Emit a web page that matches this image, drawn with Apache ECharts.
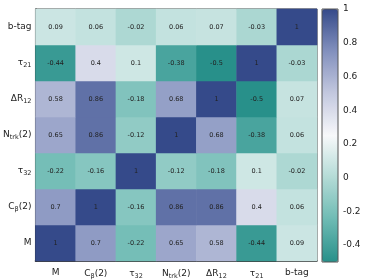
<!DOCTYPE html>
<html>
<head>
<meta charset="utf-8">
<script src="https://cdn.jsdelivr.net/npm/echarts@6/dist/echarts.min.js"></script>
<style>html,body{margin:0;padding:0;background:#fff}#c{width:374px;height:280px}</style>
</head>
<body>
<div id="c"></div>
<script>
// Variables (bottom to top on y, left to right on x)
var variables = ['M', 'Cβ(2)', 'τ32', 'Ntrk(2)', 'ΔR12', 'τ21', 'b-tag'];
var tickLabels = ['M', '{n|C}{s|β}{n|(2)}', '{n|τ}{s|32}', '{n|N}{s|trk}{n|(2)}', '{n|ΔR}{s|12}', '{n|τ}{s|21}', 'b-tag'];
// Correlation rows
var rowM     = [1, 0.7, -0.22, 0.65, 0.58, -0.44, 0.09];
var rowCb    = [0.7, 1, -0.16, 0.86, 0.86, 0.4, 0.06];
var rowTau32 = [-0.22, -0.16, 1, -0.12, -0.18, 0.1, -0.02];
var rowNtrk  = [0.65, 0.86, -0.12, 1, 0.68, -0.38, 0.06];
var rowDR    = [0.58, 0.86, -0.18, 0.68, 1, -0.5, 0.07];
var rowTau21 = [-0.44, 0.4, 0.1, -0.38, -0.5, 1, -0.03];
var rowBtag  = [0.09, 0.06, -0.02, 0.06, 0.07, -0.03, 1];
var colorMin = -0.5, colorMax = 1;

var rows = [rowM, rowCb, rowTau32, rowNtrk, rowDR, rowTau21, rowBtag];
var data = [];
rows.forEach(function (r, yi) { r.forEach(function (v, xi) { data.push([xi, yi, v]); }); });

var FONT = 'DejaVu Sans';
var rich = {
  n: { fontSize: 9, fontFamily: FONT, color: '#222' },
  s: { fontSize: 6.5, fontFamily: FONT, color: '#222', padding: [5, 0, 0, 0] }
};
function fmt(v, i) { return tickLabels[i]; }

var chart = echarts.init(document.getElementById('c'));
chart.setOption({
  animation: false,
  grid: [
    { left: 35, top: 9, width: 282, height: 253, show: true, borderColor: '#333', borderWidth: 1, backgroundColor: 'transparent' },
    { left: 322, top: 9, width: 16, height: 253, show: true, borderColor: '#555', borderWidth: 1, backgroundColor: 'transparent', z: 10 }
  ],
  xAxis: [
    { type: 'category', data: variables, gridIndex: 0,
      axisLine: { show: true, lineStyle: { color: '#222', width: 1.5 } },
      axisTick: { show: false }, splitLine: { show: false },
      axisLabel: { interval: 0, hideOverlap: false, formatter: fmt, rich: rich, fontSize: 9, fontFamily: FONT, color: '#222', margin: 7 } },
    { type: 'value', gridIndex: 1, show: false, min: 0, max: 1 }
  ],
  yAxis: [
    { type: 'category', data: variables, gridIndex: 0,
      axisLine: { show: true, lineStyle: { color: '#222', width: 1.5 } },
      axisTick: { show: false }, splitLine: { show: false },
      axisLabel: { interval: 0, hideOverlap: false, formatter: fmt, rich: rich, fontSize: 9, fontFamily: FONT, color: '#222', margin: 4 } },
    { type: 'value', gridIndex: 1, position: 'right', min: colorMin, max: colorMax, interval: 0.1,
      axisLine: { show: false }, axisTick: { show: false }, splitLine: { show: false },
      axisLabel: { fontSize: 9, fontFamily: FONT, color: '#222', margin: 5,
        formatter: function (v) {
          var k = Math.round(v * 10);
          if (k % 2 !== 0) return '';
          return String(Math.round(v * 10) / 10);
        } } }
  ],
  visualMap: {
    type: 'continuous', min: colorMin, max: colorMax, calculable: false,
    orient: 'vertical', left: 322, top: 9, itemWidth: 16, itemHeight: 253,
    padding: 0, text: ['', ''], showLabel: false, seriesIndex: 0,
    inRange: { color: ['#28908a', '#6dbab3', '#b3dbd6', '#f7f8fa', '#c3c8df', '#8290bd', '#354a8a'] }
  },
  series: [{
    type: 'heatmap', xAxisIndex: 0, yAxisIndex: 0, data: data,
    label: { show: true, fontSize: 6.5, fontFamily: FONT, color: '#222',
      formatter: function (p) { return String(p.value[2]); } },
    itemStyle: { borderWidth: 0 }
  }]
});
</script>
</body>
</html>
